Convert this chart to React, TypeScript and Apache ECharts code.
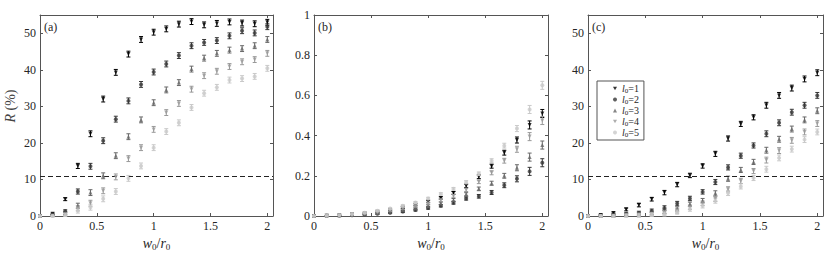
import React, { useEffect, useRef } from 'react';
import * as echarts from 'echarts';

const xVals = [0, 0.111, 0.222, 0.333, 0.444, 0.556, 0.667, 0.778, 0.889, 1, 1.111, 1.222, 1.333, 1.444, 1.556, 1.667, 1.778, 1.889, 2];
const seriesNames = ['l0=1', 'l0=2', 'l0=3', 'l0=4', 'l0=5'];
const colors = ['#000000', '#363636', '#686868', '#999999', '#c9c9c9'];
const symbols = ['triangle', 'circle', 'triangle', 'triangle', 'circle'];
const rotations = [180, 0, 0, 180, 0];
const legendIcons = ['path://M0,0L10,0L5,9Z', 'circle', 'triangle', 'path://M0,0L10,0L5,9Z', 'circle'];

// panel (a)
const a1 = [0, 0.6, 4.6, 13.7, 22.5, 32, 39.3, 44.3, 48.3, 50.3, 51.2, 52.5, 53.2, 52.3, 52.7, 53.1, 52.8, 52.6, 53];
const a2 = [0, 0.3, 1.3, 6.7, 13.6, 20.6, 26.5, 31.5, 36, 39.4, 41.6, 43.9, 46.6, 47.5, 48, 49.3, 50.7, 50.1, 51.8];
const a3 = [0, 0.2, 0.8, 2.8, 6.4, 11, 16.5, 21.7, 26.3, 31, 34.5, 36.5, 40.2, 43.2, 44.5, 45.4, 45.8, 46.6, 48.3];
const a4 = [0, 0.1, 0.5, 2.1, 3.5, 6.9, 10.7, 15.7, 18.7, 23.7, 28.3, 30.8, 34.7, 38.4, 39.6, 40.9, 42.2, 42.8, 44.5];
const a5 = [0, 0, 0.3, 1.5, 2.4, 4.7, 6.7, 10.3, 13.7, 18.7, 23.1, 25.5, 29.7, 33.6, 35.2, 37.2, 37.6, 38.2, 40.4];
const errA = [0.1, 0.2, 0.4, 0.7, 0.8, 0.8, 0.8, 0.8, 0.8, 0.8, 0.8, 0.8, 0.8, 0.8, 0.8, 0.8, 0.8, 0.8, 0.8];

// panel (b)
const b1 = [0, 0.001, 0.003, 0.007, 0.013, 0.021, 0.03, 0.042, 0.056, 0.072, 0.09, 0.115, 0.15, 0.195, 0.248, 0.315, 0.378, 0.453, 0.51];
const b2 = [0, 0.001, 0.002, 0.004, 0.007, 0.011, 0.016, 0.022, 0.03, 0.04, 0.051, 0.066, 0.087, 0.098, 0.117, 0.153, 0.185, 0.222, 0.265];
const b3 = [0, 0.001, 0.002, 0.005, 0.009, 0.015, 0.021, 0.029, 0.039, 0.05, 0.063, 0.08, 0.108, 0.135, 0.163, 0.2, 0.24, 0.293, 0.353];
const b4 = [0, 0.001, 0.003, 0.006, 0.011, 0.018, 0.026, 0.036, 0.048, 0.062, 0.078, 0.1, 0.13, 0.17, 0.215, 0.275, 0.332, 0.395, 0.475];
const b5 = [0, 0.001, 0.004, 0.009, 0.016, 0.026, 0.037, 0.051, 0.067, 0.087, 0.11, 0.135, 0.168, 0.21, 0.275, 0.35, 0.435, 0.53, 0.65];
const errB = [0, 0, 0.001, 0.002, 0.003, 0.003, 0.004, 0.005, 0.005, 0.006, 0.006, 0.007, 0.008, 0.009, 0.01, 0.012, 0.015, 0.02, 0.02];

// panel (c)
const c1 = [0, 0.3, 0.8, 1.8, 3, 4.6, 6.4, 8.6, 11.1, 13.7, 17, 21.2, 25.2, 27, 30.3, 33, 35, 37.5, 39.2];
const c2 = [0, 0.1, 0.3, 0.5, 0.8, 1.4, 2.2, 3.4, 4.8, 6.6, 9.3, 13.3, 16.5, 19.3, 22.5, 25.5, 28.4, 30.3, 33];
const c3 = [0, 0, 0.1, 0.3, 0.5, 0.8, 1.3, 1.9, 3.2, 4.2, 6.2, 10.2, 12.6, 14.8, 18, 21, 23.8, 26.3, 28.8];
const c4 = [0, 0, 0.1, 0.2, 0.3, 0.5, 0.9, 1.4, 2.4, 3.5, 4.7, 7.3, 9.6, 12.3, 15.3, 17.9, 20.7, 23, 25.3];
const c5 = [0, 0, 0, 0.1, 0.2, 0.4, 0.6, 1.1, 1.9, 2.8, 4.2, 6.3, 8.1, 10.4, 12.8, 15.9, 18.3, 20.9, 23];
const errC = [0.1, 0.2, 0.3, 0.4, 0.5, 0.5, 0.6, 0.6, 0.6, 0.6, 0.7, 0.7, 0.7, 0.7, 0.8, 0.8, 0.8, 0.8, 0.8];

const panels = [
  { label: '(a)', series: [a1, a2, a3, a4, a5], err: errA, yMax: 55, yInterval: 10, threshold: 11 },
  { label: '(b)', series: [b1, b2, b3, b4, b5], err: errB, yMax: 1, yInterval: 0.2, threshold: null },
  { label: '(c)', series: [c1, c2, c3, c4, c5], err: errC, yMax: 55, yInterval: 10, threshold: 11 },
];

const gridsPos = [
  { left: 40, top: 15, width: 233, height: 201 },
  { left: 314, top: 15, width: 234, height: 201 },
  { left: 588, top: 15, width: 235, height: 201 },
];

const FONT = 'Liberation Serif';
const AXIS_COLOR = '#555';
const TEXT_COLOR = '#262626';

export default function App() {
  const ref = useRef<HTMLDivElement>(null);
  useEffect(() => {
    if (!ref.current) return;
    const chart = echarts.init(ref.current, null, { renderer: 'svg' });
    const xAxes: any[] = [];
    const yAxes: any[] = [];
    const series: any[] = [];
    const graphics: any[] = [];
    const tick = { show: true, inside: true, length: 3, lineStyle: { color: AXIS_COLOR, width: 1 } };
    const line = { show: true, onZero: false, lineStyle: { color: AXIS_COLOR, width: 1 } };

    panels.forEach((p, pi) => {
      const xFmt = (v: number) => (Math.abs(v * 2 - Math.round(v * 2)) < 1e-6 ? String(v) : '');
      const yFmt = (v: number) => {
        const r = v / p.yInterval;
        if (Math.abs(r - Math.round(r)) > 1e-6) return '';
        return String(Math.round(v * 1000) / 1000);
      };
      xAxes.push({
        type: 'value', gridIndex: pi, min: 0, max: 2.05, interval: 0.5, position: 'bottom',
        axisLine: line, axisTick: tick, splitLine: { show: false },
        axisLabel: { formatter: xFmt, fontFamily: FONT, fontSize: 12, color: TEXT_COLOR, margin: 4 },
        name: '{i|w}{s|0}{n|/}{i|r}{s|0}', nameLocation: 'middle', nameGap: 13,
        nameTextStyle: {
          color: TEXT_COLOR,
          rich: {
            i: { fontFamily: FONT, fontStyle: 'italic', fontSize: 14, color: TEXT_COLOR },
            n: { fontFamily: FONT, fontSize: 14, color: TEXT_COLOR },
            s: { fontFamily: FONT, fontSize: 9, color: TEXT_COLOR, padding: [7, 0, 0, 0] },
          },
        },
      });
      yAxes.push({
        type: 'value', gridIndex: pi, min: 0, max: p.yMax, interval: p.yInterval, position: 'left',
        axisLine: line, axisTick: tick, splitLine: { show: false },
        axisLabel: { formatter: yFmt, fontFamily: FONT, fontSize: 12, color: TEXT_COLOR, margin: 4 },
      });
    });
    panels.forEach((p, pi) => {
      xAxes.push({
        type: 'value', gridIndex: pi, min: 0, max: 2.05, interval: 0.5, position: 'top',
        axisLine: line, axisTick: tick, axisLabel: { show: false }, splitLine: { show: false },
      });
      yAxes.push({
        type: 'value', gridIndex: pi, min: 0, max: p.yMax, interval: p.yInterval, position: 'right',
        axisLine: line, axisTick: tick, axisLabel: { show: false }, splitLine: { show: false },
      });
    });

    panels.forEach((p, pi) => {
      p.series.forEach((vals, si) => {
        const color = colors[si];
        series.push({
          type: 'custom', xAxisIndex: pi, yAxisIndex: pi, coordinateSystem: 'cartesian2d',
          data: xVals.map((x, i) => [x, vals[i], p.err[i]]),
          encode: { x: 0, y: 1 }, silent: true, z: 2 + si,
          renderItem: (params: any, api: any) => {
            const x = api.value(0), y = api.value(1), e = api.value(2);
            const t = api.coord([x, y + e]);
            const b = api.coord([x, y - e]);
            const w = 2;
            const st = { stroke: color, lineWidth: 1 };
            return {
              type: 'group', children: [
                { type: 'line', shape: { x1: t[0], y1: t[1], x2: b[0], y2: b[1] }, style: st },
                { type: 'line', shape: { x1: t[0] - w, y1: t[1], x2: t[0] + w, y2: t[1] }, style: st },
                { type: 'line', shape: { x1: b[0] - w, y1: b[1], x2: b[0] + w, y2: b[1] }, style: st },
              ],
            };
          },
        });
        series.push({
          type: 'scatter', name: seriesNames[si], xAxisIndex: pi, yAxisIndex: pi,
          data: xVals.map((x, i) => [x, vals[i]]),
          symbol: symbols[si], symbolRotate: rotations[si], symbolSize: 4,
          itemStyle: { color }, z: 3 + si, silent: true,
        });
      });
      if (p.threshold !== null) {
        series.push({
          type: 'line', xAxisIndex: pi, yAxisIndex: pi, data: [], silent: true,
          markLine: {
            silent: true, symbol: ['none', 'none'], label: { show: false },
            lineStyle: { color: '#222', type: [5, 3], width: 1 },
            data: [{ yAxis: p.threshold }],
          },
        });
      }
      graphics.push({
        type: 'text', left: gridsPos[pi].left + 4, top: 21,
        style: { text: p.label, fontFamily: FONT, fontSize: 12, fill: TEXT_COLOR },
      });
    });

    graphics.push({
      type: 'text', x: 10, y: 106, rotation: Math.PI / 2,
      style: {
        text: '{i|R}{n| (%)}', align: 'center', verticalAlign: 'middle',
        rich: {
          i: { fontFamily: FONT, fontStyle: 'italic', fontSize: 14, fill: '#444' },
          n: { fontFamily: FONT, fontSize: 14, fill: '#444' },
        },
      },
    });

    chart.setOption({
      animation: false,
      grid: gridsPos,
      xAxis: xAxes,
      yAxis: yAxes,
      series,
      graphic: graphics,
      legend: {
        orient: 'vertical', left: 597, top: 81,
        data: seriesNames.map((n, i) => ({ name: n, icon: legendIcons[i] })),
        itemWidth: 4, itemHeight: 4, itemGap: 0,
        padding: [2, 5, 2, 16],
        borderColor: '#555', borderWidth: 1, backgroundColor: '#fff',
        selectedMode: false,
        formatter: (name: string) => `{i|l}{s|0}{n|=${name.slice(3)}}`,
        textStyle: {
          fontFamily: FONT, fontSize: 10, color: TEXT_COLOR,
          rich: {
            i: { fontFamily: FONT, fontStyle: 'italic', fontSize: 10, color: TEXT_COLOR, lineHeight: 9.8 },
            n: { fontFamily: FONT, fontSize: 10, color: TEXT_COLOR, lineHeight: 9.8 },
            s: { fontFamily: FONT, fontSize: 7, color: TEXT_COLOR, padding: [4, 0, 0, 0], lineHeight: 9.8 },
          },
        },
      },
    });
    return () => chart.dispose();
  }, []);
  return <div ref={ref} style={{ width: 830, height: 257, position: 'absolute', left: 0, top: 0 }} />;
}
